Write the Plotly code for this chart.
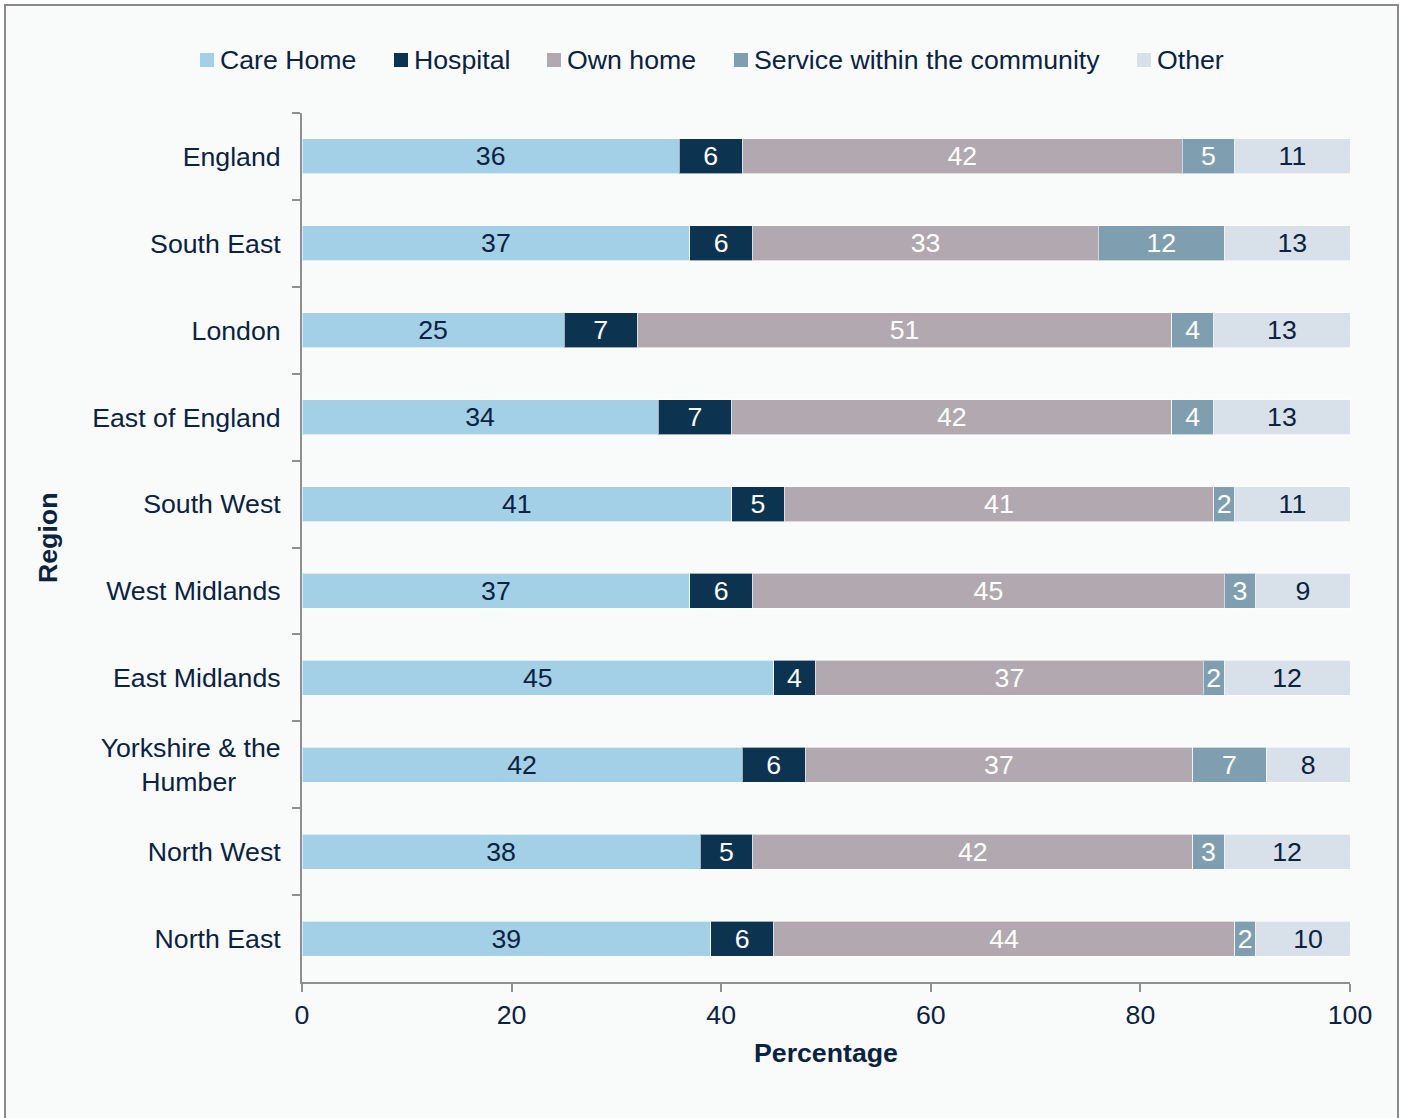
import plotly.graph_objects as go

# Place of care by region (percentages)
regions = [
    "England", "South East", "London", "East of England", "South West",
    "West Midlands", "East Midlands", "Yorkshire & the<br>Humber" + "\u00a0" * 6,
    "North West", "North East",
]
care_home = [36, 37, 25, 34, 41, 37, 45, 42, 38, 39]
hospital = [6, 6, 7, 7, 5, 6, 4, 6, 5, 6]
own_home = [42, 33, 51, 42, 41, 45, 37, 37, 42, 44]
community = [5, 12, 4, 4, 2, 3, 2, 7, 3, 2]
other = [11, 13, 13, 13, 11, 9, 12, 8, 12, 10]

series_names = ["Care Home", "Hospital", "Own home",
                "Service within the community", "Other"]
series_values = [care_home, hospital, own_home, community, other]
series_colors = ["#a3d0e7", "#0c3350", "#b1a9af", "#7f9fb0", "#d8e1e9"]
label_colors = ["#0b2240", "#ffffff", "#ffffff", "#ffffff", "#0b2240"]

FONT = "Liberation Sans, Arial, sans-serif"
FS = 26.7
TEXT = "#0b2240"
AXIS = "#8f8f8f"

W, H = 1403, 1118
L, R, T, B = 302, 1350, 113, 982

# left pixel edge of each legend swatch (text follows 20px later)
legend_swatch_x = [200, 394, 547, 734, 1137]
LEGEND_Y = 60
SWATCH = 14


def px_x(p):
    return (p - L) / (R - L)


def px_y(p):
    return (B - p) / (B - T)


fig = go.Figure()
for name, vals, color, tcolor in zip(series_names, series_values,
                                     series_colors, label_colors):
    fig.add_trace(go.Bar(
        name=name, y=regions, x=vals, orientation="h",
        marker=dict(color=color, line=dict(color="rgba(255,255,255,0.6)", width=1)),
        text=[str(v) for v in vals], textposition="inside",
        insidetextanchor="middle", textangle=0, constraintext="none",
        textfont=dict(family=FONT, size=FS, color=tcolor),
        hoverinfo="skip", showlegend=False,
    ))

shapes = [dict(
    type="rect", xref="paper", yref="paper", layer="below",
    x0=px_x(5), x1=px_x(1398), y0=px_y(1140), y1=px_y(5),
    line=dict(color="#8a8a8a", width=2), fillcolor="#f9fbfb",
)]
annotations = [
    dict(text="<b>Region</b>", xref="paper", yref="paper",
         x=px_x(48), y=px_y(538), xanchor="center", yanchor="middle",
         textangle=-90, showarrow=False,
         font=dict(family=FONT, size=FS, color=TEXT)),
    dict(text="<b>Percentage</b>", xref="paper", yref="paper",
         x=px_x(826), y=px_y(1053), xanchor="center", yanchor="middle",
         showarrow=False, font=dict(family=FONT, size=FS, color=TEXT)),
]

# legend row: colour swatch followed by series name
for name, color, sx in zip(series_names, series_colors, legend_swatch_x):
    shapes.append(dict(
        type="rect", xref="paper", yref="paper",
        x0=px_x(sx), x1=px_x(sx + SWATCH),
        y0=px_y(LEGEND_Y + SWATCH / 2), y1=px_y(LEGEND_Y - SWATCH / 2),
        fillcolor=color, line=dict(width=0),
    ))
    annotations.append(dict(
        text=name, xref="paper", yref="paper",
        x=px_x(sx + SWATCH + 5), y=px_y(LEGEND_Y), xanchor="left",
        yanchor="middle", showarrow=False, borderpad=0,
        font=dict(family=FONT, size=FS, color=TEXT),
    ))

fig.update_layout(
    width=W, height=H,
    margin=dict(l=L, r=W - R, t=T, b=H - B, pad=0),
    barmode="stack", bargap=0.598,
    paper_bgcolor="#ffffff", plot_bgcolor="rgba(0,0,0,0)",
    font=dict(family=FONT, size=FS, color=TEXT),
    showlegend=False,
    xaxis=dict(
        range=[0, 100], dtick=20, tick0=0, showgrid=False, zeroline=False,
        showline=True, linecolor=AXIS, linewidth=2,
        ticks="outside", ticklen=8, tickwidth=2, tickcolor=AXIS,
        tickfont=dict(family=FONT, size=FS, color=TEXT),
        fixedrange=True,
    ),
    yaxis=dict(
        autorange="reversed", type="category", showgrid=False, zeroline=False,
        showline=True, linecolor=AXIS, linewidth=2,
        ticks="outside", ticklen=8, tickwidth=2, tickcolor=AXIS,
        tickson="boundaries", ticklabelstandoff=14,
        tickfont=dict(family=FONT, size=FS, color=TEXT),
        fixedrange=True,
    ),
    shapes=shapes,
    annotations=annotations,
)

fig.write_html("out.html", config={"displayModeBar": False})
